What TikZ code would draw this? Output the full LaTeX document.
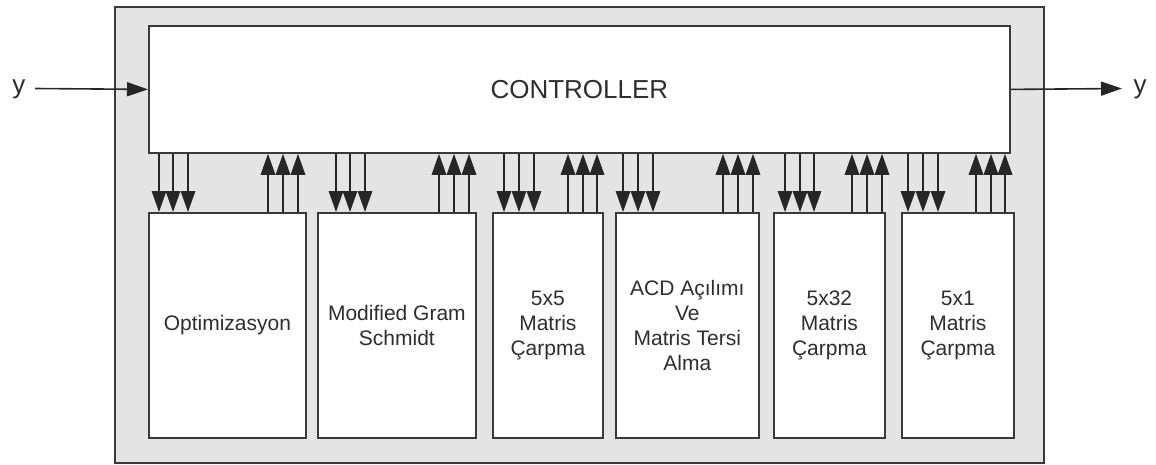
\documentclass[tikz,border=0pt]{standalone}
\usepackage{fontspec}
\setmainfont{Liberation Sans}
\usetikzlibrary{arrows.meta}
\definecolor{edge}{HTML}{3A3A3A}
\definecolor{panelfill}{HTML}{E4E4E4}
\definecolor{txt}{HTML}{2E2E2E}
\begin{document}
\begin{tikzpicture}[x=1pt,y=-1pt,
  blk/.style={draw=edge, line width=1.8pt, fill=white, inner sep=0pt, anchor=north west},
  subbox/.style={blk, minimum height=225pt, font=\fontsize{21}{25}\selectfont, text=txt, align=center},
  biglabel/.style={font=\fontsize{26}{30}\selectfont, text=txt, inner sep=0pt},
  dn/.style={draw=black!85, line width=1.6pt, -{Triangle[length=21pt,width=14.5pt]}},
  upar/.style={draw=black!85, line width=1.6pt, -{Triangle[length=21pt,width=14.5pt]}},
  io/.style={draw=black!85, line width=1.6pt, -{Triangle[length=21pt,width=14pt]}},
]
\useasboundingbox (0,0) rectangle (1156,464);
\node[draw=edge, line width=1.6pt, fill=panelfill, inner sep=0pt, anchor=north west,
      minimum width=929pt, minimum height=456pt] (panel) at (114,6) {};
\node[blk, minimum width=861pt, minimum height=127pt, biglabel] (ctrl) at (148,25) {CONTROLLER};

\node[subbox, minimum width=157pt] (b1) at (148,212) {Optimizasyon};
\node[subbox, minimum width=158pt] (b2) at (317,212) {Modified Gram\\Schmidt};
\node[subbox, minimum width=110pt] (b3) at (492,212) {5x5\\Matris\\Çarpma};
\node[subbox, minimum width=143pt] (b4) at (615,212) {ACD Açılımı\\Ve\\Matris Tersi\\Alma};
\node[subbox, minimum width=111pt] (b5) at (773,212) {5x32\\Matris\\Çarpma};
\node[subbox, minimum width=112pt] (b6) at (901,212) {5x1\\Matris\\Çarpma};

% input / output
\node[biglabel, anchor=base] (yin) at (19,93.5) {y};
\node[biglabel, anchor=base] (yout) at (1140,93.5) {y};
\coordinate (inStart) at (35,88.5);
\coordinate (outEnd) at (1122,88.5);
\draw[io] (inStart) -- (ctrl.west);
\draw[io] (ctrl.east) -- (outEnd);

% controller -> blocks
\foreach \x in {159,173,188} \draw[dn] (\x,0 |- ctrl.south) -- (\x,0 |- b1.north);
\foreach \x in {268,283,298} \draw[upar] (\x,0 |- b1.north) -- (\x,0 |- ctrl.south);
\foreach \x in {336,350,365} \draw[dn] (\x,0 |- ctrl.south) -- (\x,0 |- b2.north);
\foreach \x in {439,454,469} \draw[upar] (\x,0 |- b2.north) -- (\x,0 |- ctrl.south);
\foreach \x in {504,519,534} \draw[dn] (\x,0 |- ctrl.south) -- (\x,0 |- b3.north);
\foreach \x in {568,583,597} \draw[upar] (\x,0 |- b3.north) -- (\x,0 |- ctrl.south);
\foreach \x in {623,638,653} \draw[dn] (\x,0 |- ctrl.south) -- (\x,0 |- b4.north);
\foreach \x in {723,738,753} \draw[upar] (\x,0 |- b4.north) -- (\x,0 |- ctrl.south);
\foreach \x in {785,800,814} \draw[dn] (\x,0 |- ctrl.south) -- (\x,0 |- b5.north);
\foreach \x in {852,867,882} \draw[upar] (\x,0 |- b5.north) -- (\x,0 |- ctrl.south);
\foreach \x in {908,923,938} \draw[dn] (\x,0 |- ctrl.south) -- (\x,0 |- b6.north);
\foreach \x in {976,991,1005} \draw[upar] (\x,0 |- b6.north) -- (\x,0 |- ctrl.south);
\end{tikzpicture}
\end{document}
